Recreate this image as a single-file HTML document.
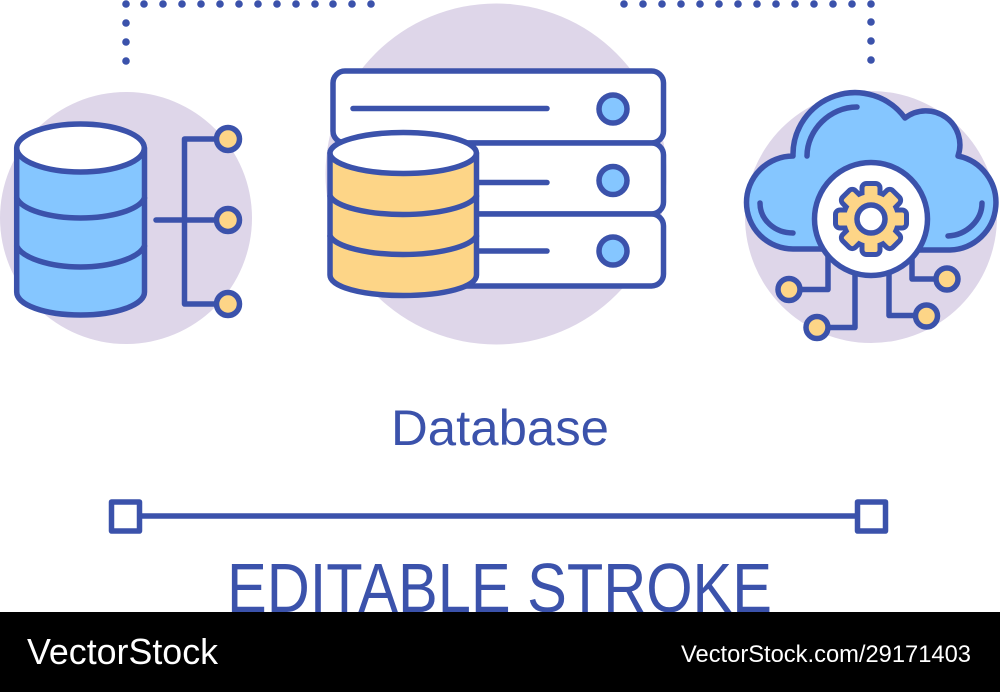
<!DOCTYPE html>
<html><head><meta charset="utf-8"><style>html,body{margin:0;padding:0;background:#fff}svg{display:block}</style></head>
<body>
<svg xmlns="http://www.w3.org/2000/svg" width="1000" height="692" viewBox="0 0 1000 692">
<rect width="1000" height="692" fill="#fff"/>
<circle cx="126" cy="218" r="126" fill="#ded6e9"/>
<circle cx="496" cy="174" r="170.500" fill="#ded6e9"/>
<circle cx="871" cy="217" r="126" fill="#ded6e9"/>
<g fill="#3b52ab">
<circle cx="126" cy="4" r="3.800"/><circle cx="126" cy="23" r="3.800"/><circle cx="126" cy="42" r="3.800"/><circle cx="126" cy="61" r="3.800"/>
<circle cx="144" cy="4" r="3.800"/><circle cx="163" cy="4" r="3.800"/><circle cx="182" cy="4" r="3.800"/><circle cx="201" cy="4" r="3.800"/><circle cx="220" cy="4" r="3.800"/><circle cx="239" cy="4" r="3.800"/><circle cx="258" cy="4" r="3.800"/><circle cx="277" cy="4" r="3.800"/><circle cx="296" cy="4" r="3.800"/><circle cx="315" cy="4" r="3.800"/><circle cx="333" cy="4" r="3.800"/><circle cx="352" cy="4" r="3.800"/><circle cx="371" cy="4" r="3.800"/>
<circle cx="624" cy="4" r="3.800"/><circle cx="643" cy="4" r="3.800"/><circle cx="662" cy="4" r="3.800"/><circle cx="681" cy="4" r="3.800"/><circle cx="700" cy="4" r="3.800"/><circle cx="719" cy="4" r="3.800"/><circle cx="738" cy="4" r="3.800"/><circle cx="757" cy="4" r="3.800"/><circle cx="776" cy="4" r="3.800"/><circle cx="795" cy="4" r="3.800"/><circle cx="814" cy="4" r="3.800"/><circle cx="833" cy="4" r="3.800"/><circle cx="852" cy="4" r="3.800"/><circle cx="871" cy="4" r="3.800"/>
<circle cx="871" cy="22" r="3.800"/><circle cx="871" cy="41" r="3.800"/><circle cx="871" cy="60" r="3.800"/>
</g>
<g stroke="#3b52ab" stroke-width="5.500" stroke-linecap="round" stroke-linejoin="round" fill="none">
<!-- left cylinder -->
<path d="M16.700 148V292C16.700 305 45 315 80.500 315S144.500 305 144.500 292V148Z" fill="#85c6ff"/>
<ellipse cx="80.500" cy="148" rx="63.800" ry="24" fill="#fff"/>
<path d="M16.700 198C22 210 50 218 80.500 218S139 210 144.500 198"/>
<path d="M16.700 246C22 258 50 267 80.500 267S139 258 144.500 246"/>
<path d="M228 139H184.500V304H228M156 220H228"/>
<circle cx="228" cy="139" r="11.500" fill="#fdd587"/>
<circle cx="228" cy="220" r="11.500" fill="#fdd587"/>
<circle cx="228" cy="304" r="11.500" fill="#fdd587"/>
<!-- servers -->
<rect x="333" y="71" width="330.500" height="72" rx="12" fill="#fff"/>
<rect x="333" y="143" width="330.500" height="71" rx="12" fill="#fff"/>
<rect x="333" y="214" width="330.500" height="72" rx="12" fill="#fff"/>
<path d="M353 108.500H547M475 182.500H547M475 251H547"/>
<circle cx="613" cy="109" r="14" fill="#85c6ff"/>
<circle cx="613" cy="180.500" r="14" fill="#85c6ff"/>
<circle cx="613" cy="251" r="14" fill="#85c6ff"/>
<!-- orange cylinder -->
<path d="M330 153V275C330 287 362 295.500 403 295.500S476.500 287 476.500 275V153Z" fill="#fdd587"/>
<ellipse cx="403.200" cy="153" rx="73.200" ry="20.500" fill="#fff"/>
<path d="M330 196C336 207 368 214.500 403 214.500S470 207 476.500 196"/>
<path d="M330 236C336 247 368 254.500 403 254.500S470 247 476.500 236"/>
<!-- circuit -->
<path d="M828 250V289.500H789M855 270V327.500H817M889 270V315.500H926.500M912 250V279H947"/>
<circle cx="789" cy="289.500" r="11" fill="#fdd587"/>
<circle cx="817" cy="327.500" r="11" fill="#fdd587"/>
<circle cx="926.500" cy="316" r="11" fill="#fdd587"/>
<circle cx="947" cy="279" r="11" fill="#fdd587"/>
<!-- cloud -->
<path d="M820 249H793A46.500 46.500 0 0 1 793 156A62 62 0 0 1 905 118A34 34 0 0 1 958 156A47.500 47.500 0 0 1 950 250H917Z" fill="#85c6ff"/>
<path d="M857 107C830 107 807 130 807 156M760 203C760 220 775 233 793 233M982 203C982 220 967 235 948 236"/>
<circle cx="871" cy="219" r="56.500" fill="#fff"/>
<!-- gear -->
<g stroke-width="10">
<rect x="864.500" y="186" width="13" height="66" rx="2" transform="rotate(0 871 219)"/>
<rect x="864.500" y="186" width="13" height="66" rx="2" transform="rotate(45 871 219)"/>
<rect x="864.500" y="186" width="13" height="66" rx="2" transform="rotate(90 871 219)"/>
<rect x="864.500" y="186" width="13" height="66" rx="2" transform="rotate(135 871 219)"/>
<circle cx="871" cy="219" r="25"/>
</g>
<g fill="#fdd587" stroke="none">
<rect x="864.500" y="186" width="13" height="66" rx="2" transform="rotate(0 871 219)"/>
<rect x="864.500" y="186" width="13" height="66" rx="2" transform="rotate(45 871 219)"/>
<rect x="864.500" y="186" width="13" height="66" rx="2" transform="rotate(90 871 219)"/>
<rect x="864.500" y="186" width="13" height="66" rx="2" transform="rotate(135 871 219)"/>
<circle cx="871" cy="219" r="25"/>
</g>
<circle cx="871" cy="219" r="14" fill="#fff"/>
<!-- slider -->
<path d="M141 516H856" stroke-width="5.500"/>
<rect x="111.500" y="502" width="28" height="29" stroke-width="5.500" fill="#fff"/>
<rect x="857.500" y="502" width="28" height="29" stroke-width="5.500" fill="#fff"/>
</g>
<g font-family="'Liberation Sans', sans-serif" fill="#3b52ab">
<text x="391" y="445" font-size="50" textLength="218" lengthAdjust="spacingAndGlyphs">Database</text>
<text x="227" y="612" font-size="70" textLength="545" lengthAdjust="spacingAndGlyphs">EDITABLE STROKE</text>
</g>
<rect x="0" y="612" width="1000" height="80" fill="#000"/>
<g font-family="'Liberation Sans', sans-serif" fill="#fff">
<text x="27" y="664" font-size="36" textLength="191" lengthAdjust="spacingAndGlyphs">VectorStock</text>
<text x="681" y="662" font-size="24" textLength="290" lengthAdjust="spacingAndGlyphs">VectorStock.com/29171403</text>
</g>
</svg>
</body></html>
